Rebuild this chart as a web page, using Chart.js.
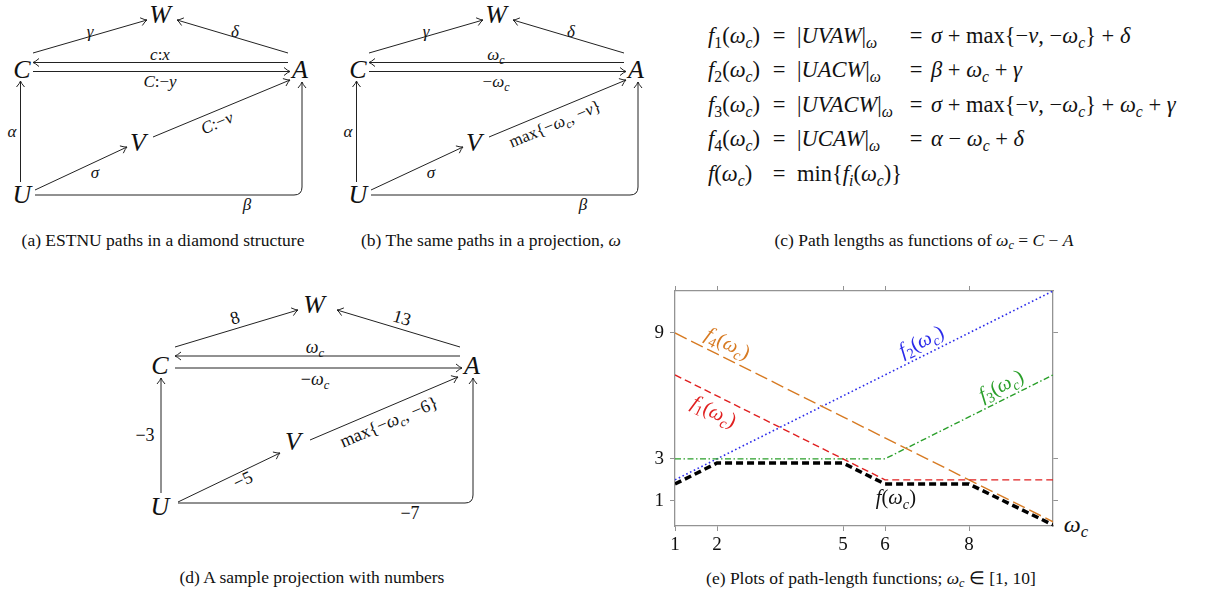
<!DOCTYPE html>
<html>
<head>
<meta charset="utf-8">
<script src="https://cdn.jsdelivr.net/npm/chart.js@4.4.1/dist/chart.umd.min.js"></script>
<style>
  html, body { margin: 0; padding: 0; background: #fff; }
  #page { position: relative; width: 1226px; height: 593px; overflow: hidden; }
  #fig { position: absolute; left: 0; top: 0; }
  #plotBox { position: absolute; left: 630px; top: 280px; width: 450px; height: 275px; }
</style>
</head>
<body>
<div id="page">
  <svg id="fig" width="1226" height="593" xmlns="http://www.w3.org/2000/svg"></svg>
  <div id="plotBox"><canvas id="plot"></canvas></div>
</div>
<script>
// values
const omega = [1, 2, 3, 4, 5, 6, 7, 8, 9, 10];
const f1Vals = [7, 6, 5, 4, 3, 2, 2, 2, 2, 2];
const f2Vals = [2, 3, 4, 5, 6, 7, 8, 9, 10, 11];
const f3Vals = [3, 3, 3, 3, 3, 3, 4, 5, 6, 7];
const f4Vals = [9, 8, 7, 6, 5, 4, 3, 2, 1, 0];
// f(omega) is drawn a little under the minimum so it stays visible
const fOmega = [1, 2, 5, 6, 8, 10];
const fVals = [1.8, 2.8, 2.8, 1.8, 1.8, -0.15];

const xTickVals = [1, 2, 5, 6, 8];
const yTickVals = [1, 3, 9];

// curve names, anchored in data space (slope is used to tilt the text)
const curveNames = ['f_1(ω_c)', 'f_2(ω_c)', 'f_3(ω_c)', 'f_4(ω_c)', 'f(ω_c)'];
const nameX = [1.93, 6.86, 8.76, 2.26, 6.26];
const nameY = [5.26, 8.61, 6.5, 8.51, 1.14];
const nameSlope = [-1, 1, 1, -1, 0];

const RED = '#e02020';
const BLUE = '#2b2bea';
const GREEN = '#2a9f2a';
const ORANGE = '#d77a22';
const AXIS = '#939393';
const nameColors = [RED, BLUE, GREEN, ORANGE, '#111'];

const SERIF = '"Liberation Serif", "Times New Roman", serif';

// tiny math-ish markup: letters italic, `...` roman, _x or _{..} subscript
function parseMath(s) {
  const runs = [];
  let roman = false;
  const isLetter = c => /[A-Za-zα-ωΑ-Ω]/.test(c);
  const push = (t, it, sub) => {
    const last = runs[runs.length - 1];
    if (last && last.it === it && last.sub === sub) last.t += t;
    else runs.push({ t, it, sub });
  };
  for (let i = 0; i < s.length; i++) {
    const c = s[i];
    if (c === '`') { roman = !roman; continue; }
    if (c === '_' && !roman) {
      let sub;
      if (s[i + 1] === '{') {
        const j = s.indexOf('}', i + 2);
        sub = s.slice(i + 2, j);
        i = j;
      } else {
        sub = s[i + 1];
        i++;
      }
      for (const d of sub) push(d, isLetter(d), true);
      continue;
    }
    push(c, !roman && isLetter(c), false);
  }
  return runs;
}

// ---------- SVG part: diagrams, formulas, captions ----------
const NS = 'http://www.w3.org/2000/svg';
const fig = document.getElementById('fig');

function el(tag, attrs, parent) {
  const e = document.createElementNS(NS, tag);
  for (const k in attrs) e.setAttribute(k, attrs[k]);
  (parent || fig).appendChild(e);
  return e;
}

function mathText(x, y, str, size, opts) {
  opts = opts || {};
  const t = el('text', {
    x: x, y: y + size * 0.32,
    'font-size': size,
    'font-family': SERIF,
    'text-anchor': opts.anchor || 'middle',
    fill: opts.color || '#111'
  });
  t.style.whiteSpace = 'pre';
  if (opts.rot) t.setAttribute('transform', `rotate(${opts.rot} ${x} ${y})`);
  let shifted = false;
  parseMath(str).forEach(r => {
    const ts = el('tspan', {}, t);
    if (r.it) ts.setAttribute('font-style', 'italic');
    if (r.sub) {
      ts.setAttribute('font-size', size * 0.7);
      if (!shifted) { ts.setAttribute('dy', size * 0.22); shifted = true; }
    } else if (shifted) {
      ts.setAttribute('dy', -size * 0.22);
      shifted = false;
    }
    ts.textContent = r.t;
  });
}

function head(x, y, ang) {
  const dx = Math.cos(ang), dy = Math.sin(ang);
  const nx = -dy, ny = dx;
  const p = (a, b) => `${(x - a * dx + b * nx).toFixed(1)} ${(y - a * dy + b * ny).toFixed(1)}`;
  el('path', {
    d: `M ${p(6, 4)} Q ${p(2.2, 0.7)} ${p(0, 0)} Q ${p(2.2, -0.7)} ${p(6, -4)}`,
    fill: 'none', stroke: '#222', 'stroke-width': 1
  });
}

function arrow(x1, y1, x2, y2) {
  el('line', { x1, y1, x2, y2, stroke: '#222', 'stroke-width': 1 });
  head(x2, y2, Math.atan2(y2 - y1, x2 - x1));
}

function bentArrow(x1, y, xc, yTop) {
  const r = 8;
  el('path', {
    d: `M ${x1} ${y} H ${xc - r} Q ${xc} ${y} ${xc} ${y - r} V ${yTop}`,
    fill: 'none', stroke: '#222', 'stroke-width': 1
  });
  head(xc, yTop, -Math.PI / 2);
}

function drawDiagram(g, dx) {
  for (const k in g.nodes) mathText(g.nodes[k][0] + dx, g.nodes[k][1], k, 26);
  g.edges.forEach(e => arrow(e[0] + dx, e[1], e[2] + dx, e[3]));
  bentArrow(g.bend[0] + dx, g.bend[1], g.bend[2] + dx, g.bend[3]);
}

function edgeLabels(list, size) {
  list.forEach(l => mathText(l[0], l[1], l[2], size, { rot: l[3] || 0 }));
}

// (a) and (b) share one layout
const diamondAB = {
  nodes: { W: [160, 15], C: [22, 70], A: [300, 70], V: [138, 143], U: [22, 195] },
  edges: [
    [33, 53, 147, 20],
    [288, 53, 177, 20],
    [288, 62.5, 33, 62.5],
    [33, 71.5, 290, 71.5],
    [20.5, 182, 20.5, 81],
    [35, 190, 127, 147],
    [153, 137, 290, 80]
  ],
  bend: [35, 195, 302, 82]
};
drawDiagram(diamondAB, 0);
edgeLabels([
  [90, 32, 'γ'], [235, 32, 'δ'], [160, 55, 'c:x'], [160, 82, 'C:−y'],
  [12, 132, 'α'], [95, 173, 'σ'], [217, 123, 'C:−v', -22.6], [247, 205, 'β']
], 17);

drawDiagram(diamondAB, 336);
edgeLabels([
  [426, 32, 'γ'], [571, 32, 'δ'], [496, 55, 'ω_c'], [496, 82, '−ω_c'],
  [348, 132, 'α'], [431, 173, 'σ'], [555, 124, '`max`{−ω_c, −v}', -22.6], [583, 205, 'β']
], 17);

// (d)
const diamondD = {
  nodes: { W: [314, 305], C: [160, 366], A: [472, 366], V: [293, 442], U: [160, 507] },
  edges: [
    [175, 347, 298, 310],
    [460, 347, 337, 310],
    [460, 356, 175, 356],
    [175, 368, 462, 368],
    [161, 493, 161, 378],
    [178, 502, 280, 453],
    [310, 440, 458, 377]
  ],
  bend: [178, 503, 473, 378]
};
drawDiagram(diamondD, 0);
edgeLabels([
  [235, 318, '8', -16.7], [402, 318, '13', 16.7], [315, 347, 'ω_c'], [315, 379, '−ω_c'],
  [145, 435, '−3'], [243, 480, '−5', -25.7], [389, 422, '`max`{−ω_c, −6}', -23], [410, 513, '−7']
], 18);

// (c) formulas
const rowY = [36, 70, 105, 139, 174];
const lhs = ['f_1(ω_c)', 'f_2(ω_c)', 'f_3(ω_c)', 'f_4(ω_c)', 'f(ω_c)'];
const mid = ['|UVAW|_ω', '|UACW|_ω', '|UVACW|_ω', '|UCAW|_ω', '`min`{f_i(ω_c)}'];
const rhs = ['σ + `max`{−v, −ω_c} + δ', 'β + ω_c + γ', 'σ + `max`{−v, −ω_c} + ω_c + γ', 'α − ω_c + δ', ''];
rowY.forEach((y, i) => {
  mathText(708, y, lhs[i], 22.5, { anchor: 'start' });
  mathText(779, y, '=', 22.5);
  mathText(797, y, mid[i], 22.5, { anchor: 'start' });
  if (rhs[i]) {
    mathText(916, y, '=', 22.5);
    mathText(931, y, rhs[i], 22.5, { anchor: 'start' });
  }
});

// captions
mathText(163, 240, '`(a) ESTNU paths in a diamond structure`', 17.5);
mathText(491, 240, '`(b) The same paths in a projection, `ω', 17.5);
mathText(924, 240, '`(c) Path lengths as functions of `ω_c = C − A', 17.5);
mathText(312, 577, '`(d) A sample projection with numbers`', 17.5);
mathText(871, 578, '`(e) Plots of path-length functions; `ω_c ∈ [1, 10]', 17.5);
mathText(1076, 524, 'ω_c', 24);

// ---------- Chart.js part: panel (e) ----------
function drawMath(ctx, str, x, y, size, color, angle) {
  const runs = parseMath(str);
  const fontOf = r => `${r.it ? 'italic ' : ''}${r.sub ? size * 0.7 : size}px ${SERIF}`;
  let w = 0;
  runs.forEach(r => { ctx.font = fontOf(r); r.w = ctx.measureText(r.t).width; w += r.w; });
  ctx.save();
  ctx.translate(x, y);
  ctx.rotate(angle);
  ctx.fillStyle = color;
  ctx.textBaseline = 'alphabetic';
  let cx = -w / 2;
  runs.forEach(r => {
    ctx.font = fontOf(r);
    ctx.fillText(r.t, cx, size * 0.32 + (r.sub ? size * 0.22 : 0));
    cx += r.w;
  });
  ctx.restore();
}

const curveNamePlugin = {
  id: 'curveNames',
  afterDatasetsDraw(chart) {
    const { ctx, scales: { x, y } } = chart;
    curveNames.forEach((name, i) => {
      const px = x.getPixelForValue(nameX[i]);
      const py = y.getPixelForValue(nameY[i]);
      const rise = y.getPixelForValue(nameY[i] + nameSlope[i]) - py;
      const run = x.getPixelForValue(nameX[i] + 1) - px;
      drawMath(ctx, name, px, py, 20.5, nameColors[i], Math.atan2(rise, run));
    });
  }
};

function toPoints(xs, ys) {
  return xs.map((v, i) => ({ x: v, y: ys[i] }));
}

Chart.defaults.font.family = SERIF;
Chart.defaults.font.size = 19;
Chart.defaults.color = '#222';

function fixTicks(vals) {
  return scale => { scale.ticks = vals.map(v => ({ value: v })); };
}

// fixed axis boxes so the plot frame lands where the reference has it
function fixBox(size) {
  return scale => {
    if (scale.isHorizontal()) scale.height = size;
    else scale.width = size;
    scale.paddingTop = 0;
    scale.paddingBottom = 0;
    scale.paddingLeft = 0;
    scale.paddingRight = 0;
  };
}

const frameGrid = { drawOnChartArea: false, drawTicks: true, tickLength: 5, color: AXIS, lineWidth: 1 };
const frameBorder = { color: AXIS, width: 1.3 };

const plot = new Chart(document.getElementById('plot'), {
  type: 'line',
  data: {
    datasets: [
      {
        label: 'f',
        data: toPoints(fOmega, fVals),
        borderColor: '#000',
        borderWidth: 3.5,
        borderDash: [7, 4]
      },
      {
        label: 'f1',
        data: toPoints(omega, f1Vals),
        borderColor: RED,
        borderWidth: 1.4,
        borderDash: [7, 4]
      },
      {
        label: 'f4',
        data: toPoints(omega, f4Vals),
        borderColor: ORANGE,
        borderWidth: 1.4,
        borderDash: [13, 5]
      },
      {
        label: 'f3',
        data: toPoints(omega, f3Vals),
        borderColor: GREEN,
        borderWidth: 1.4,
        borderDash: [6, 2.5, 1.5, 2.5]
      },
      {
        label: 'f2',
        data: toPoints(omega, f2Vals),
        borderColor: BLUE,
        borderWidth: 1.6,
        borderDash: [1.6, 2.6]
      }
    ]
  },
  options: {
    responsive: true,
    maintainAspectRatio: false,
    animation: false,
    parsing: false,
    layout: { padding: 0, autoPadding: false },
    elements: { point: { radius: 0 }, line: { tension: 0, fill: false } },
    plugins: { legend: { display: false }, tooltip: { enabled: false }, title: { display: false } },
    scales: {
      x: {
        type: 'linear', position: 'bottom', min: 1, max: 10,
        afterBuildTicks: fixTicks(xTickVals),
        afterFit: fixBox(29),
        grid: frameGrid, border: frameBorder,
        ticks: { autoSkip: false, maxRotation: 0, padding: 3, color: '#111' }
      },
      xTop: {
        type: 'linear', position: 'top', min: 1, max: 10,
        afterBuildTicks: fixTicks(xTickVals),
        afterFit: fixBox(11),
        grid: frameGrid, border: frameBorder,
        ticks: { display: false }
      },
      y: {
        type: 'linear', position: 'left', min: -0.2, max: 11,
        afterBuildTicks: fixTicks(yTickVals),
        afterFit: fixBox(45),
        grid: frameGrid, border: frameBorder,
        ticks: { autoSkip: false, padding: 6, color: '#111' }
      },
      yRight: {
        type: 'linear', position: 'right', min: -0.2, max: 11,
        afterBuildTicks: fixTicks(yTickVals),
        afterFit: fixBox(27),
        grid: frameGrid, border: frameBorder,
        ticks: { display: false }
      }
    }
  },
  plugins: [curveNamePlugin]
});
</script>
</body>
</html>
